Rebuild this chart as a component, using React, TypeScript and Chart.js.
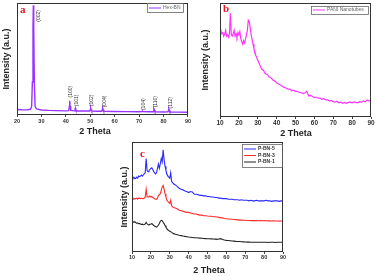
import React, { useEffect, useRef } from 'react';
import { Chart, registerables } from 'chart.js';
Chart.register(...registerables);

const FONT = '"Liberation Sans", Arial, sans-serif';

// ---------- Panel a : Hex-BN ----------
const hexX = [20, 22, 24, 25.5, 26.0, 26.3, 26.55, 26.7, 26.85, 27.1, 27.4, 28, 30, 33, 36, 40, 41.2, 41.45, 41.6, 41.75, 42, 43.5, 43.75, 43.9, 44.05, 44.3, 47, 49.8, 50.05, 50.2, 50.35, 50.6, 53, 54.7, 54.95, 55.1, 55.25, 55.5, 60, 65, 70, 71.2, 71.4, 71.6, 74, 75.7, 75.95, 76.1, 76.25, 76.5, 80, 81.8, 82.05, 82.2, 82.35, 82.6, 86, 90];
const hexY = [5, 4.8, 4.7, 5.2, 8, 30, 80, 100, 80, 30, 8, 5.5, 4.6, 4.2, 4, 3.8, 4, 8, 13, 8, 4.2, 3.8, 5, 6.2, 5, 3.7, 3.6, 3.6, 5, 6.2, 5, 3.5, 3.4, 3.4, 5, 6, 5, 3.3, 3.2, 3.1, 3, 3.2, 3.6, 3.1, 2.9, 2.9, 4.5, 5.8, 4.5, 2.8, 2.7, 2.8, 4.3, 5.3, 4.3, 2.7, 2.6, 2.5];
const peakLabelText = ['(002)', '(100)', '(101)', '(102)', '(004)', '(104)', '(110)', '(112)'];
const peakLabelX = [29, 42, 44.4, 50.5, 55.8, 71.7, 76.6, 83.1];
const peakLabelY = [85, 16, 8, 8, 7, 4.5, 7, 6];

// ---------- Panel b : PANI Nanotubes ----------
const paniX = [10, 10.5, 11, 11.5, 12, 12.5, 13, 13.5, 14, 14.5, 15, 15.5, 16, 16.5, 17, 17.5, 18, 18.5, 19, 19.5, 20, 20.5, 21, 21.5, 22, 22.5, 23, 23.5, 24, 24.5, 25, 25.5, 26, 26.5, 27, 27.5, 28, 28.5, 29, 29.5, 30,
  31, 32, 33, 34, 35, 36, 37, 38, 39, 40, 41, 42, 43, 44, 45, 46, 47, 48, 49, 50, 51, 52, 53, 54, 55, 56, 57, 58, 59, 60, 61, 62, 63, 64, 65, 66, 67, 68, 69, 70, 71, 72, 73, 74, 75, 76, 77, 78, 79, 80, 81, 82, 83, 84, 85, 86, 87, 88, 89, 90];
const paniY = [77, 75, 73, 74, 71, 73, 76, 71, 72, 70, 73, 91, 72, 71, 73, 76, 71, 73, 70, 74, 72, 75, 69, 66, 64, 67, 65, 68, 72, 76, 85, 84, 78, 72, 68, 64, 60, 57, 54, 52, 50,
  46, 42, 41, 38, 37.5, 35, 34.5, 32.5, 31.5, 30, 29, 28, 27, 26, 25.5, 24.5, 24.5, 23, 23.5, 22.5, 22.5, 21.5, 21.5, 20.5, 21, 22.5, 18.5, 19, 18, 17, 17.5, 16.5, 16.5, 15.5, 16, 15, 15, 14, 14.5, 13.5, 13, 13.8, 12.5, 13, 12, 12.8, 12, 12.8, 13, 12.5, 13.3, 12.8, 12.5, 13.5, 13, 14, 13.3, 15, 14, 14.5];

// ---------- Panel c : P-BN composites ----------
const compX = [10, 10.5, 11, 11.5, 12, 12.5, 13, 13.5, 14, 14.5, 15, 15.5, 16, 16.5, 17, 17.5, 18, 18.5, 19, 19.5, 20, 20.5, 21, 21.5, 22, 22.5, 23, 23.5, 24, 24.5, 25, 25.5, 26, 26.5, 27, 27.5, 28, 28.5, 29, 29.5, 30, 30.5, 31, 31.5, 32,
  33, 34, 35, 36, 37, 38, 39, 40, 41, 42, 43, 44, 45, 46, 47, 48, 49, 50, 51, 52, 53, 54, 55, 56, 57, 58, 59, 60, 61, 62, 63, 64, 65, 66, 67, 68, 69, 70, 71, 72, 73, 74, 75, 76, 77, 78, 79, 80, 81, 82, 83, 84, 85, 86, 87, 88, 89, 90];
const pbn5Y = [68, 67, 68, 66.5, 67, 68, 67, 69, 68.5, 69, 70, 69, 70, 71, 72, 85, 74, 73, 74, 75, 76, 76.5, 75, 73, 72, 71, 72, 76, 80, 76, 80, 85, 82, 93, 84, 78, 74, 71, 69, 68, 67, 72, 64, 63, 62,
  61, 59.5, 58, 57, 56.5, 55.5, 55, 54, 55, 54.5, 52.5, 52.5, 52, 51.5, 51.5, 51, 51, 50.5, 50.5, 50, 50, 49.5, 49.5, 49, 49, 48.5, 48.5, 48.5, 48, 48, 48, 47.5, 47.5, 47.5, 47, 47.5, 47, 47, 47, 46.5, 47, 46.5, 46.5, 47, 46.5, 46.5, 46.5, 46.5, 47, 46.5, 46.5, 46, 46.5, 46.5, 46.5, 46, 46.5, 46.5];
const pbn3Y = [48.5, 49, 48, 48.5, 48.5, 49, 48, 49, 49, 48.5, 49, 48.5, 48.5, 49, 50, 57, 50, 50, 50.5, 51, 50, 50.5, 49.5, 49, 48.5, 48, 48, 49, 51.5, 52, 53, 56, 59, 60.5, 57, 53, 50, 47, 46, 45, 44, 47, 42, 41, 40.5,
  40, 39, 38, 37.5, 37, 36.5, 36, 36, 35.5, 35, 34.5, 34.5, 34, 33.5, 33.5, 33, 33, 32.7, 32.5, 32.5, 32, 32, 31.8, 31.5, 31, 31, 30.5, 30.3, 30, 30, 29.8, 29.5, 29.4, 29.2, 29, 29, 28.8, 28.8, 28.7, 28.6, 28.5, 28.5, 28.5, 28.5, 28.4, 28.5, 28.4, 28.5, 28.4, 28.3, 28.3, 28.2, 28.3, 28.2, 28.2, 28.1, 28.2, 28.2];
const pbn1Y = [28, 27.5, 27, 27.5, 26.7, 26, 26.5, 25.8, 25.8, 25.5, 25, 25.3, 24.8, 25, 25.5, 27, 25.5, 25, 24.8, 25.3, 25.5, 25.8, 25, 24, 23.6, 23, 22.7, 23.5, 24.5, 26, 28, 28.8, 28.5, 27, 25.8, 24, 22.5, 21, 20, 19.5, 18.8, 18.5, 17.8, 17.2, 16.7,
  16.2, 15.7, 15.2, 14.9, 14.5, 14.2, 13.9, 13.6, 13.4, 13.2, 13, 12.9, 12.7, 12.6, 12.5, 12.3, 12.2, 12.1, 12, 11.9, 11.8, 11.7, 11.5, 11.8, 12.1, 11.3, 10.9, 10.6, 10.4, 10.2, 10, 9.9, 9.7, 9.6, 9.5, 9.3, 9.2, 9.1, 9, 9, 8.9, 8.9, 8.8, 8.8, 8.8, 8.8, 8.8, 8.8, 8.8, 8.7, 8.8, 8.8, 8.8, 8.7, 8.8, 8.8, 8.8, 8.8];

const toPts = (xs: number[], ys: number[]) => xs.map((x, i) => ({ x, y: ys[i] }));

type LegendRow = { label: string; color: string; y: number };
type Decor = {
  letter: string; letterX: number; letterY: number;
  titleX: number; titleY: number;
  legend: { x: number; y: number; w: number; h: number; bold: boolean; rows: LegendRow[] };
  peaks?: boolean;
};

function decorPlugin(d: Decor) {
  return {
    id: 'decor',
    afterDraw(chart: any) {
      const { ctx, chartArea: a, scales } = chart;
      ctx.save();
      ctx.strokeStyle = '#333';
      ctx.lineWidth = 1;
      ctx.strokeRect(Math.round(a.left) + 0.5, Math.round(a.top) + 0.5, Math.round(a.right - a.left) - 1, Math.round(a.bottom - a.top) - 1);
      ctx.fillStyle = '#e8141e';
      ctx.font = 'bold 11px "Liberation Serif", "Times New Roman", serif';
      ctx.textAlign = 'left';
      ctx.textBaseline = 'alphabetic';
      ctx.fillText(d.letter, d.letterX, d.letterY);
      ctx.fillStyle = '#222';
      ctx.font = 'bold 9px ' + FONT;
      ctx.textAlign = 'center';
      ctx.textBaseline = 'middle';
      ctx.fillText('2 Theta', d.titleX, d.titleY);
      const L = d.legend;
      ctx.strokeStyle = '#666';
      ctx.lineWidth = 0.8;
      ctx.strokeRect(L.x + 0.5, L.y + 0.5, L.w, L.h);
      ctx.font = (L.bold ? 'bold ' : '') + '5px ' + FONT;
      ctx.textAlign = 'left';
      ctx.textBaseline = 'middle';
      L.rows.forEach((r) => {
        ctx.strokeStyle = r.color;
        ctx.lineWidth = 1;
        ctx.beginPath();
        ctx.moveTo(L.x + 2, r.y);
        ctx.lineTo(L.x + 14, r.y);
        ctx.stroke();
        ctx.fillStyle = L.bold ? '#333' : '#666';
        ctx.fillText(r.label, L.x + 16, r.y);
      });
      if (d.peaks) {
        ctx.fillStyle = '#333';
        ctx.font = '5px ' + FONT;
        ctx.textAlign = 'left';
        ctx.textBaseline = 'middle';
        peakLabelText.forEach((t, i) => {
          const px = scales.x.getPixelForValue(peakLabelX[i]);
          const py = scales.y.getPixelForValue(peakLabelY[i]);
          ctx.save();
          ctx.translate(px, py);
          ctx.rotate(-Math.PI / 2);
          ctx.fillText(t, 0, 0);
          ctx.restore();
        });
      }
      ctx.restore();
    },
  };
}

type Geo = {
  xMin: number; xMax: number; yMax: number; padRight: number; padTop: number;
  yWidth: number; xHeight: number; tickSize: number; tickPad: number; yTitlePad: number;
};

function buildConfig(datasets: any[], g: Geo, d: Decor): any {
  return {
    type: 'line',
    data: { datasets },
    options: {
      responsive: false,
      animation: false,
      devicePixelRatio: 1,
      layout: { padding: { left: 0, right: g.padRight, top: g.padTop, bottom: 0 } },
      elements: { point: { radius: 0 }, line: { tension: 0 } },
      plugins: { legend: { display: false }, tooltip: { enabled: false } },
      scales: {
        x: {
          type: 'linear', min: g.xMin, max: g.xMax,
          afterFit: (s: any) => { s.height = g.xHeight; },
          ticks: { stepSize: 10, autoSkip: false, maxRotation: 0, padding: g.tickPad, color: '#333', font: { family: FONT, size: g.tickSize, weight: 'bold' } },
          grid: { display: true, drawOnChartArea: false, drawTicks: true, tickLength: 2, tickColor: '#444', lineWidth: 1 },
          border: { display: false },
          title: { display: false },
        },
        y: {
          type: 'linear', min: 0, max: g.yMax,
          afterFit: (s: any) => { s.width = g.yWidth; },
          ticks: { display: false },
          grid: { display: false },
          border: { display: false },
          title: { display: true, text: 'Intensity (a.u.)', color: '#222', font: { family: FONT, size: 9, weight: 'bold' }, padding: { top: g.yTitlePad, bottom: 0 } },
        },
      },
    },
    plugins: [decorPlugin(d)],
  };
}

function Panel(props: { left: number; top: number; width: number; height: number; build: () => any }) {
  const ref = useRef<HTMLCanvasElement>(null);
  useEffect(() => {
    const chart = new Chart(ref.current as HTMLCanvasElement, props.build());
    return () => chart.destroy();
  }, []);
  return (
    <canvas ref={ref} width={props.width} height={props.height}
      style={{ position: 'absolute', left: props.left, top: props.top, width: props.width, height: props.height }} />
  );
}

const PURPLE = '#9933ff';
const MAGENTA = '#ff33ff';
const BLUE = '#2a2aff';
const RED = '#ff2a2a';
const BLACK = '#222222';

const buildA = () => buildConfig(
  [{ label: 'Hex-BN', data: toPts(hexX, hexY), borderColor: PURPLE, borderWidth: 1.4 }],
  { xMin: 20, xMax: 90, yMax: 102, padRight: 3, padTop: 3, yWidth: 17, xHeight: 25, tickSize: 5.5, tickPad: 1, yTitlePad: 1 },
  { letter: 'a', letterX: 20, letterY: 13, titleX: 95, titleY: 132,
    legend: { x: 147, y: 3, w: 36, h: 9, bold: false, rows: [{ label: 'Hex-BN', color: PURPLE, y: 8 }] }, peaks: true }
);

const buildB = () => buildConfig(
  [{ label: 'PANI Nanotubes', data: toPts(paniX, paniY), borderColor: MAGENTA, borderWidth: 1.2 }],
  { xMin: 10, xMax: 90, yMax: 100, padRight: 7, padTop: 3, yWidth: 30, xHeight: 23, tickSize: 6.5, tickPad: 0.5, yTitlePad: 10 },
  { letter: 'b', letterX: 33, letterY: 12, titleX: 106, titleY: 134,
    legend: { x: 121, y: 6, w: 57, h: 8, bold: false, rows: [{ label: 'PANI Nanotubes', color: MAGENTA, y: 10 }] } }
);

const buildC = () => buildConfig(
  [
    { label: 'P-BN-5', data: toPts(compX, pbn5Y), borderColor: BLUE, borderWidth: 1.1 },
    { label: 'P-BN-3', data: toPts(compX, pbn3Y), borderColor: RED, borderWidth: 1.1 },
    { label: 'P-BN-1', data: toPts(compX, pbn1Y), borderColor: BLACK, borderWidth: 1.1 },
  ],
  { xMin: 10, xMax: 90, yMax: 100, padRight: 7, padTop: 4, yWidth: 42, xHeight: 24, tickSize: 5.5, tickPad: 0, yTitlePad: 29 },
  { letter: 'c', letterX: 50, letterY: 19, titleX: 119, titleY: 133,
    legend: { x: 152, y: 6, w: 40, h: 23, bold: true, rows: [
      { label: 'P-BN-5', color: BLUE, y: 11 },
      { label: 'P-BN-3', color: RED, y: 17.5 },
      { label: 'P-BN-1', color: BLACK, y: 24 },
    ] } }
);

export default function App() {
  return (
    <div style={{ position: 'fixed', left: 0, top: 0, width: 378, height: 276, overflow: 'hidden', background: '#fff' }}>
      <Panel left={0} top={0} width={192} height={140} build={buildA} />
      <Panel left={190} top={0} width={188} height={140} build={buildB} />
      <Panel left={90} top={138} width={200} height={138} build={buildC} />
    </div>
  );
}
